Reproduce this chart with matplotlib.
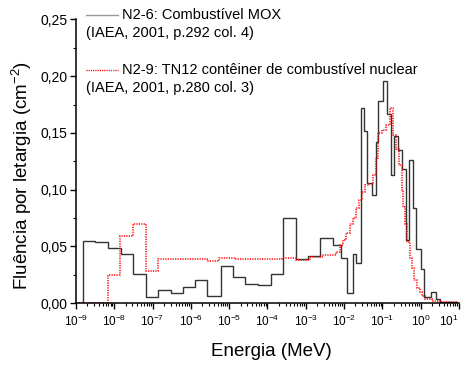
import numpy as np
import matplotlib
matplotlib.use("Agg")
import matplotlib.pyplot as plt
from matplotlib.ticker import FuncFormatter, LogLocator, MultipleLocator
from matplotlib.lines import Line2D

plt.rcParams['font.family'] = ['Liberation Sans', 'DejaVu Sans']
plt.rcParams['mathtext.default'] = 'regular'

# N2-6: MOX fuel spectrum (bin edges in MeV, fluence per lethargy in cm^-2)
mox_edges = [1e-9, 1.5e-9, 3.13e-9, 6.97e-9, 1.47e-8, 3.02e-8, 6.73e-8, 1.36e-7,
             2.97e-7, 6.34e-7, 1.28e-6, 2.59e-6, 6.0e-6, 1.23e-5, 2.59e-5, 5.75e-5,
             1.21e-4, 2.49e-4, 5.55e-4, 1.16e-3, 2.35e-3, 5.22e-3, 8.15e-3, 1.19e-2,
             1.68e-2, 2.05e-2, 2.71e-2, 3.37e-2, 3.89e-2, 5.26e-2, 6.81e-2, 7.81e-2,
             0.105, 0.134, 0.165, 0.205, 0.260, 0.319, 0.406, 0.504, 0.649, 0.740,
             1.0, 1.22, 1.82, 2.47, 3.19, 8.87]
mox_flux = [0.0, 0.055, 0.0535, 0.049, 0.043, 0.026, 0.0056, 0.0115, 0.0085, 0.0145,
            0.0203, 0.0062, 0.0326, 0.0229, 0.0168, 0.0159, 0.026, 0.0747, 0.0388,
            0.0414, 0.057, 0.051, 0.040, 0.0086, 0.043, 0.035, 0.172, 0.152, 0.1056,
            0.095, 0.142, 0.178, 0.196, 0.167, 0.113, 0.147, 0.135, 0.118, 0.0555,
            0.126, 0.0835, 0.048, 0.0297, 0.005, 0.0094, 0.0033, 0.001]

# N2-9: TN12 cask spectrum
tn12_edges = [1e-9, 6.73e-9, 1.41e-8, 3.02e-8, 6.73e-8, 1.36e-7, 2.59e-6, 5.42e-6,
              1.42e-5, 2.39e-4, 5.55e-4, 1.29e-3, 2.65e-3, 6.15e-3, 7.82e-3, 9.35e-3,
              1.12e-2, 1.43e-2, 1.71e-2, 2.05e-2, 2.45e-2, 2.93e-2, 3.52e-2, 4.47e-2,
              5.69e-2, 6.81e-2, 7.67e-2, 9.77e-2, 0.124, 0.158, 0.189, 0.226, 0.271,
              0.319, 0.356, 0.389, 0.431, 0.526, 0.582, 0.681, 0.80, 0.96, 1.08, 1.29,
              1.97, 3.19, 8.87]
tn12_flux = [0.0, 0.0247, 0.059, 0.0697, 0.0285, 0.0385, 0.037, 0.040, 0.039, 0.0395,
             0.038, 0.041, 0.042, 0.045, 0.051, 0.0555, 0.062, 0.070, 0.0747, 0.084,
             0.091, 0.098, 0.104, 0.105, 0.113, 0.128, 0.150, 0.153, 0.157, 0.172,
             0.148, 0.136, 0.122, 0.10, 0.085, 0.07, 0.054, 0.0394, 0.0306, 0.0203,
             0.013, 0.0095, 0.006, 0.0035, 0.002, 0.001]

series_names = ["N2-6: Combustível MOX", "N2-9: TN12 contêiner de combustível nuclear"]
series_refs = ["(IAEA, 2001, p.292 col. 4)", "(IAEA, 2001, p.280 col. 3)"]

fig = plt.figure(figsize=(4.63, 3.67), dpi=100)
ax = fig.add_axes([0.164, 0.174, 0.827, 0.773])

ax.stairs(mox_flux, mox_edges, color='#333333', lw=1.0)
ax.stairs(tn12_flux, tn12_edges, color='red', lw=1.1, linestyle=(0, (0.8, 0.8)))

ax.set_xscale('log')
ax.set_xlim(1e-9, 1e1)
ax.set_ylim(0, 0.25)

ax.xaxis.set_major_locator(LogLocator(base=10, numticks=20))
ax.xaxis.set_minor_locator(LogLocator(base=10, subs=np.arange(2, 10), numticks=20))
ax.xaxis.set_major_formatter(FuncFormatter(lambda v, p: '$10^{%d}$' % round(np.log10(v))))
ax.yaxis.set_major_locator(MultipleLocator(0.05))
ax.yaxis.set_minor_locator(MultipleLocator(0.025))
ax.yaxis.set_major_formatter(FuncFormatter(lambda v, p: ('%.2f' % v).replace('.', ',')))

for s in ['top', 'right']:
    ax.spines[s].set_visible(False)
for s in ['left', 'bottom']:
    ax.spines[s].set_linewidth(1.1)

ax.tick_params(axis='both', which='major', direction='out', length=4, width=1.0)
ax.tick_params(axis='both', which='minor', direction='out', length=2.5, width=0.8)
ax.tick_params(axis='x', labelsize=8.5, pad=4)
ax.tick_params(axis='y', labelsize=10, pad=2)
# last decade label is pulled left so it stays inside the figure
fig.canvas.draw()
for t in ax.get_xticklabels():
    if t.get_text() == '$10^{1}$':
        t.set_ha('right')

ax.set_xlabel('Energia (MeV)', fontsize=13.5)
ax.set_ylabel('Fluência por letargia (cm$^{-2}$)', fontsize=13.5)
ax.xaxis.set_label_coords(0.51, -0.14)
ax.yaxis.set_label_coords(-0.11, 0.45)

# legend drawn by hand: sample line beside the name, reference on the next line
W, H = 463, 367
for (col, ls), name, ref, y in zip([('#999999', '-'), ('red', (0, (0.8, 0.8)))],
                                   series_names, series_refs, [15, 70]):
    fig.add_artist(Line2D([86 / W, 118 / W], [1 - y / H, 1 - y / H], color=col, lw=1.0,
                          linestyle=ls, transform=fig.transFigure))
    fig.text(122 / W, 1 - y / H, name, fontsize=10.5, va='center', ha='left')
    fig.text(86 / W, 1 - (y + 18) / H, ref, fontsize=10.5, va='center', ha='left')

fig.savefig('out.png', dpi=100)
